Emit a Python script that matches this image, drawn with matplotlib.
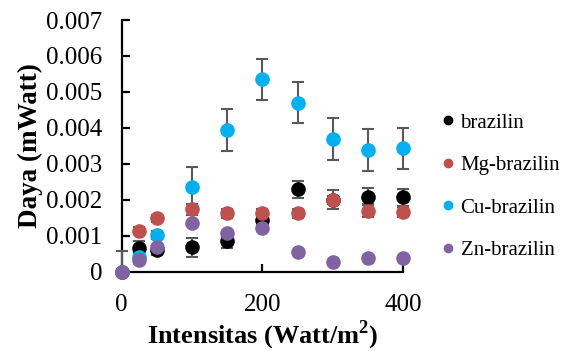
import matplotlib.pyplot as plt
import numpy as np

plt.rcParams['font.family'] = ['Liberation Serif', 'DejaVu Serif']
plt.rcParams['mathtext.fontset'] = 'custom'
plt.rcParams['mathtext.rm'] = 'Liberation Serif'
plt.rcParams['mathtext.bf'] = 'Liberation Serif:bold'

# intensity (Watt/m2)
x = [0, 25, 50, 100, 150, 200, 250, 300, 350, 400]

brazilin = [0.0, 0.00065, 0.0006, 0.00068, 0.00086, 0.00144, 0.00229, 0.00200, 0.00209, 0.00207]
brazilin_err = [0.00058, 0.0002, 0.00015, 0.00026, 0.0002, 0.0002, 0.00024, 0.00026, 0.00023, 0.00023]

mg = [0.0, 0.00114, 0.00149, 0.00174, 0.00162, 0.00164, 0.00162, 0.00199, 0.0017, 0.00166]
mg_err = [0.0, 0.0001, 0.0001, 0.00015, 0.00012, 0.0001, 0.00012, 0.00012, 0.00017, 0.00015]

cu = [0.0, 0.00042, 0.00102, 0.00235, 0.00394, 0.00535, 0.0047, 0.0037, 0.00338, 0.00343]
cu_err = [0.0, 0.0001, 0.0001, 0.00056, 0.00058, 0.00057, 0.00057, 0.00058, 0.00058, 0.00058]

zn = [0.0, 0.00032, 0.00068, 0.00136, 0.00107, 0.00122, 0.00054, 0.00026, 0.00039, 0.00037]
zn_err = [0.0, 0.00005, 0.00005, 0.00005, 0.00005, 0.00005, 0.00005, 0.00005, 0.00005, 0.00005]

series = [
    ('brazilin', brazilin, brazilin_err, 'black'),
    ('Mg-brazilin', mg, mg_err, '#C0504D'),
    ('Cu-brazilin', cu, cu_err, '#00B0F0'),
    ('Zn-brazilin', zn, zn_err, '#8064A2'),
]

fig = plt.figure(figsize=(5.64, 3.51), dpi=100)
ax = fig.add_axes([0.2158, 0.226, 0.4992, 0.717])

handles = []
for name, vals, err, col in series:
    v = np.array(vals)
    e = np.array(err)
    lower = np.minimum(e, v)  # bars stop at the axis
    eb = ax.errorbar(x, vals, yerr=[lower, e], fmt='o', color=col, ms=9.5,
                     ecolor='#595959', elinewidth=1.5, capsize=4.5, capthick=1.5,
                     clip_on=False, zorder=3)
    for art in eb.get_children():
        art.set_clip_on(False)
    h, = ax.plot([], [], 'o', color=col, ms=6, label=name)
    handles.append(h)

ax.set_xlim(0, 400)
ax.set_ylim(0, 0.007)
ax.set_xticks([0, 200, 400])
ax.set_yticks(np.arange(0, 0.0071, 0.001))
ax.set_yticklabels(['0', '0.001', '0.002', '0.003', '0.004', '0.005', '0.006', '0.007'])

for s in ['top', 'right']:
    ax.spines[s].set_visible(False)
for s in ['left', 'bottom']:
    ax.spines[s].set_linewidth(1.6)
ax.tick_params(direction='in', length=6, width=1.6, labelsize=18)
ax.tick_params(axis='x', pad=16)
ax.tick_params(axis='y', pad=14)

ax.set_xlabel('Intensitas (Watt/m$^{\\mathbf{2}}$)', fontsize=19, fontweight='bold', labelpad=2)
ax.set_ylabel('Daya (mWatt)', fontsize=19.5, fontweight='bold', labelpad=2)

fig.legend(handles=handles, loc='upper left', bbox_to_anchor=(0.75, 0.731),
           frameon=False, fontsize=15, handlelength=0.6, handletextpad=0.3,
           labelspacing=1.1)

plt.savefig('out.png', dpi=100)
